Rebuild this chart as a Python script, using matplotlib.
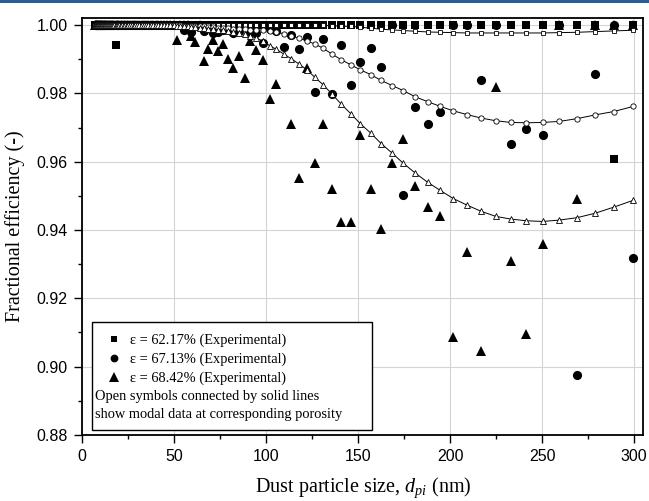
import numpy as np
import matplotlib
matplotlib.use("Agg")
import matplotlib.pyplot as plt
from matplotlib.patches import Rectangle

plt.rcParams['font.family'] = ['Liberation Sans', 'DejaVu Sans']
plt.rcParams['mathtext.fontset'] = 'custom'
plt.rcParams['mathtext.rm'] = 'Liberation Serif'
plt.rcParams['mathtext.it'] = 'Liberation Serif:italic'

SERIF = ['Liberation Serif', 'DejaVu Serif']

# SMPS channel sizes (nm)
d_nm = [
    7.1, 7.4, 7.6, 7.9, 8.2, 8.5, 8.8, 9.1, 9.5, 9.8,
    10.2, 10.6, 10.9, 11.3, 11.8, 12.2, 12.6, 13.1, 13.6, 14.1,
    14.6, 15.1, 15.7, 16.3, 16.8, 17.5, 18.1, 18.8, 19.5, 20.2,
    20.9, 21.7, 22.5, 23.3, 24.1, 25.0, 25.9, 26.9, 27.9, 28.9,
    30.0, 31.1, 32.2, 33.4, 34.6, 35.9, 37.2, 38.5, 40.0, 41.4,
    42.9, 44.5, 46.1, 47.8, 49.6, 51.4, 53.3, 55.2, 57.2, 59.3,
    61.5, 63.8, 66.1, 68.5, 71.0, 73.6, 76.3, 79.1, 82.0, 85.0,
    88.2, 91.4, 94.7, 98.2, 101.8, 105.5, 109.4, 113.4, 117.6, 121.9,
    126.3, 131.0, 135.8, 140.7, 145.9, 151.2, 156.8, 162.5, 168.5, 174.6,
    181.0, 187.7, 194.6, 201.7, 209.1, 216.7, 224.7, 232.9, 241.4, 250.3,
    259.4, 268.9, 278.8, 289.0, 299.6,
]

nan = np.nan

# experimental, porosity 62.17 %
exp_6217 = [
    1.0, 1.0, 1.0, 1.0, 1.0, 1.0, 1.0, 1.0, 1.0, 1.0,
    1.0, 1.0, 1.0, 1.0, 1.0, 1.0, 1.0, 1.0, 1.0, 1.0,
    1.0, 1.0, 1.0, 1.0, 1.0, 1.0, 0.9942, 1.0, 1.0, 1.0,
    1.0, 1.0, 1.0, 1.0, 1.0, 1.0, 1.0, 1.0, 1.0, 1.0,
    1.0, 1.0, 1.0, 1.0, 1.0, 1.0, 1.0, 1.0, 1.0, 1.0,
    1.0, 1.0, 1.0, 1.0, 1.0, 1.0, 1.0, 1.0, 1.0, 1.0,
    1.0, 1.0, 1.0, 1.0, 1.0, 1.0, 1.0, 1.0, 1.0, 1.0,
    1.0, 1.0, 1.0, 1.0, 1.0, 1.0, 1.0, 1.0, 1.0, 1.0,
    1.0, 1.0, 1.0, 1.0, 1.0, 1.0, 1.0, 1.0, 1.0, 1.0,
    1.0, 1.0, 1.0, 1.0, 1.0, 1.0, 1.0, 1.0, 1.0, 1.0,
    1.0, 1.0, 1.0, 0.9608, 1.0,
]

# experimental, porosity 67.13 %
exp_6713 = [
    1.0, 1.0, 1.0, 1.0, 1.0, 1.0, 1.0, 1.0, 1.0, 1.0,
    1.0, 1.0, 1.0, 1.0, 1.0, 1.0, 1.0, 1.0, 1.0, 1.0,
    1.0, 1.0, 1.0, 1.0, 1.0, 1.0, 1.0, 1.0, 1.0, 1.0,
    1.0, 1.0, 1.0, 1.0, 1.0, 1.0, 1.0, 1.0, 1.0, 1.0,
    1.0, 1.0, 1.0, 1.0, 1.0, 1.0, 1.0, 1.0, 1.0, 1.0,
    1.0, 1.0, 1.0, 1.0, 1.0, 1.0, 1.0, 0.9985, 1.0, 0.9981,
    1.0, 1.0, 0.9982, 1.0, 0.9978, 0.9980, 0.9985, 1.0, 0.9977, 0.9982,
    1.0, 0.9980, 0.9977, 0.9947, 0.9990, 0.9984, 0.9936, 0.9970, 0.9930, 0.9965,
    0.9803, 0.9959, 0.9797, 0.9942, 0.9825, 0.9893, 0.9934, 0.9876, 1.0, 0.9502,
    0.9759, 0.9711, 0.9747, 1.0, 1.0, 0.9840, 1.0, 0.9653, 0.9697, 0.9677,
    1.0, 0.8975, 0.9858, 1.0, 0.9317,
]

# experimental, porosity 68.42 %
exp_6842 = [
    1.0, 1.0, 1.0, 1.0, 1.0, 1.0, 1.0, 1.0, 1.0, 1.0,
    1.0, 1.0, 1.0, 1.0, 1.0, 1.0, 1.0, 1.0, 1.0, 1.0,
    1.0, 1.0, 1.0, 1.0, 1.0, 1.0, 1.0, 1.0, 1.0, 1.0,
    1.0, 1.0, 1.0, 1.0, 1.0, 1.0, 1.0, 1.0, 1.0, 1.0,
    1.0, 1.0, 1.0, 1.0, 1.0, 1.0, 1.0, 1.0, 1.0, 1.0,
    1.0, 1.0, 1.0, 1.0, 1.0, 0.9955, 1.0, 1.0, 1.0, 0.9969,
    0.9950, 1.0, 0.9894, 0.9930, 0.9955, 0.9924, 0.9944, 0.9900, 0.9874, 0.9910,
    0.9844, 0.9953, 0.9928, 0.9899, 0.9785, 0.9827, nan, 0.9709, 0.9553, 0.9874,
    0.9597, 0.9709, 0.9520, 0.9423, 0.9423, 0.9679, 0.9520, 0.9404, 0.9596, 0.9667,
    0.9528, 0.9468, 0.9440, 0.9088, 0.9335, 0.9046, 0.9819, 0.9309, 0.9094, 0.9358,
    1.0, 0.9491, 1.0, 1.0, 1.0,
]

# model results at the same porosities
mod_6217 = [
    1.0, 1.0, 1.0, 1.0, 1.0, 1.0, 1.0, 1.0, 1.0, 1.0,
    1.0, 1.0, 1.0, 1.0, 1.0, 1.0, 1.0, 1.0, 1.0, 1.0,
    1.0, 1.0, 1.0, 1.0, 1.0, 1.0, 1.0, 1.0, 1.0, 1.0,
    1.0, 1.0, 1.0, 1.0, 1.0, 1.0, 1.0, 1.0, 1.0, 1.0,
    1.0, 1.0, 1.0, 1.0, 1.0, 1.0, 1.0, 1.0, 1.0, 1.0,
    1.0, 1.0, 1.0, 1.0, 1.0, 1.0, 1.0, 1.0, 1.0, 1.0,
    1.0, 1.0, 1.0, 1.0, 1.0, 1.0, 1.0, 1.0, 1.0, 1.0,
    1.0, 1.0, 1.0, 1.0, 1.0, 1.0, 1.0, 1.0, 1.0, 1.0,
    1.0, 0.9999, 0.9998, 0.9997, 0.9996, 0.9994, 0.9991, 0.9988, 0.9986, 0.9984,
    0.9982, 0.9980, 0.9979, 0.9978, 0.9977, 0.9977, 0.9977, 0.9977, 0.9977, 0.9977,
    0.9978, 0.9979, 0.9981, 0.9983, 0.9985,
]

mod_6713 = [
    1.0, 1.0, 1.0, 1.0, 1.0, 1.0, 1.0, 1.0, 1.0, 1.0,
    1.0, 1.0, 1.0, 1.0, 1.0, 1.0, 1.0, 1.0, 1.0, 1.0,
    1.0, 1.0, 1.0, 1.0, 1.0, 1.0, 1.0, 1.0, 1.0, 1.0,
    1.0, 1.0, 1.0, 1.0, 1.0, 1.0, 1.0, 1.0, 1.0, 1.0,
    1.0, 1.0, 1.0, 1.0, 1.0, 1.0, 1.0, 1.0, 1.0, 1.0,
    1.0, 1.0, 1.0, 1.0, 1.0, 0.9999, 0.9999, 0.9998, 0.9998, 0.9997,
    0.9997, 0.9996, 0.9996, 0.9995, 0.9994, 0.9993, 0.9992, 0.9991, 0.9990, 0.9989,
    0.9988, 0.9987, 0.9986, 0.9985, 0.9983, 0.9979, 0.9975, 0.9969, 0.9962, 0.9954,
    0.9945, 0.9932, 0.9915, 0.9899, 0.9884, 0.9869, 0.9855, 0.9838, 0.9823, 0.9808,
    0.9790, 0.9776, 0.9762, 0.9749, 0.9738, 0.9728, 0.9720, 0.9715, 0.9714, 0.9715,
    0.9718, 0.9726, 0.9737, 0.9747, 0.9762,
]

mod_6842 = [
    1.0, 1.0, 1.0, 1.0, 1.0, 1.0, 1.0, 1.0, 1.0, 1.0,
    1.0, 1.0, 1.0, 1.0, 1.0, 1.0, 1.0, 1.0, 1.0, 1.0,
    1.0, 1.0, 1.0, 1.0, 1.0, 1.0, 1.0, 1.0, 1.0, 1.0,
    1.0, 1.0, 1.0, 1.0, 1.0, 1.0, 1.0, 1.0, 1.0, 1.0,
    1.0, 1.0, 1.0, 1.0, 1.0, 0.9999, 0.9999, 0.9999, 0.9999, 0.9999,
    0.9999, 0.9999, 0.9999, 0.9999, 0.9999, 0.9998, 0.9997, 0.9997, 0.9996, 0.9995,
    0.9994, 0.9993, 0.9992, 0.9990, 0.9989, 0.9987, 0.9985, 0.9983, 0.9980, 0.9977,
    0.9973, 0.9968, 0.9962, 0.9953, 0.9940, 0.9929, 0.9916, 0.9902, 0.9887, 0.9870,
    0.9848, 0.9825, 0.9798, 0.9769, 0.9741, 0.9711, 0.9684, 0.9653, 0.9625, 0.9595,
    0.9567, 0.9540, 0.9516, 0.9492, 0.9473, 0.9455, 0.9440, 0.9432, 0.9427, 0.9425,
    0.9429, 0.9436, 0.9449, 0.9467, 0.9487,
]

labels = [u'\u03b5 = 62.17% (Experimental)',
          u'\u03b5 = 67.13% (Experimental)',
          u'\u03b5 = 68.42% (Experimental)']
note = ['Open symbols connected by solid lines',
        'show modal data at corresponding porosity']

fig = plt.figure(figsize=(6.49, 5.01), dpi=100)
ax = fig.add_axes([0.1268, 0.132, 0.8644, 0.8315])

# thin blue rule along the top of the figure
fig.add_artist(Rectangle((0, 1 - 3 / 501), 1, 3 / 501, transform=fig.transFigure,
                         facecolor='#2b5d96', edgecolor='none'))

# experimental points
h1, = ax.plot(d_nm, exp_6217, 's', color='black', ms=5.8, mew=0, label=labels[0])
h2, = ax.plot(d_nm, exp_6713, 'o', color='black', ms=6.6, mew=0, label=labels[1])
h3, = ax.plot(d_nm, exp_6842, '^', color='black', ms=7.8, mew=0, label=labels[2])

# model curves (open symbols)
ax.plot(d_nm, mod_6217, '-s', color='black', lw=0.7, ms=3.4, mfc='white', mew=0.6)
ax.plot(d_nm, mod_6713, '-o', color='black', lw=0.7, ms=3.8, mfc='white', mew=0.6)
ax.plot(d_nm, mod_6842, '-^', color='black', lw=0.7, ms=4.2, mfc='white', mew=0.6)

ax.set_xlim(0, 305)
ax.set_ylim(0.88, 1.002)
ax.set_xticks([0, 50, 100, 150, 200, 250, 300])
ax.set_xticks([25, 75, 125, 175, 225, 275], minor=True)
ax.set_yticks([0.88, 0.90, 0.92, 0.94, 0.96, 0.98, 1.00])
ax.set_yticks([0.89, 0.91, 0.93, 0.95, 0.97, 0.99], minor=True)
ax.set_yticklabels(['0.88', '0.90', '0.92', '0.94', '0.96', '0.98', '1.00'])

ax.grid(True, which='major', color='#d4d4d4', lw=0.8)
ax.set_axisbelow(True)
ax.tick_params(which='major', direction='out', length=5.5, width=1.0,
               labelsize=11.5, pad=5)
ax.tick_params(which='minor', direction='out', length=3, width=1.0)
for sp in ax.spines.values():
    sp.set_linewidth(1.3)

ax.set_xlabel(r'Dust particle size, $d_{pi}$ (nm)', family=SERIF, fontsize=14.5,
              labelpad=8)
ax.set_ylabel('Fractional efficiency (-)', family=SERIF, fontsize=14.5, labelpad=8)

# legend box with the three experimental entries and a two-line note
ax.add_patch(Rectangle((0.0173, 0.0113), 0.4991, 0.2592, transform=ax.transAxes,
                       facecolor='white', edgecolor='black', lw=1.0, zorder=5))
leg = ax.legend(handles=[h1, h2, h3], loc='upper left', bbox_to_anchor=(0.0435, 0.2424),
                frameon=False, borderpad=0, borderaxespad=0, handlelength=1.0,
                handletextpad=0.6, labelspacing=0.36, markerscale=0.85,
                prop={'family': SERIF, 'size': 10.4})
leg.set_zorder(6)
ax.text(0.0226, 0.0919, note[0], transform=ax.transAxes, family=SERIF, fontsize=10.4,
        va='center', ha='left', zorder=6)
ax.text(0.0226, 0.0497, note[1], transform=ax.transAxes, family=SERIF, fontsize=10.4,
        va='center', ha='left', zorder=6)

fig.savefig('out.png', dpi=100)
